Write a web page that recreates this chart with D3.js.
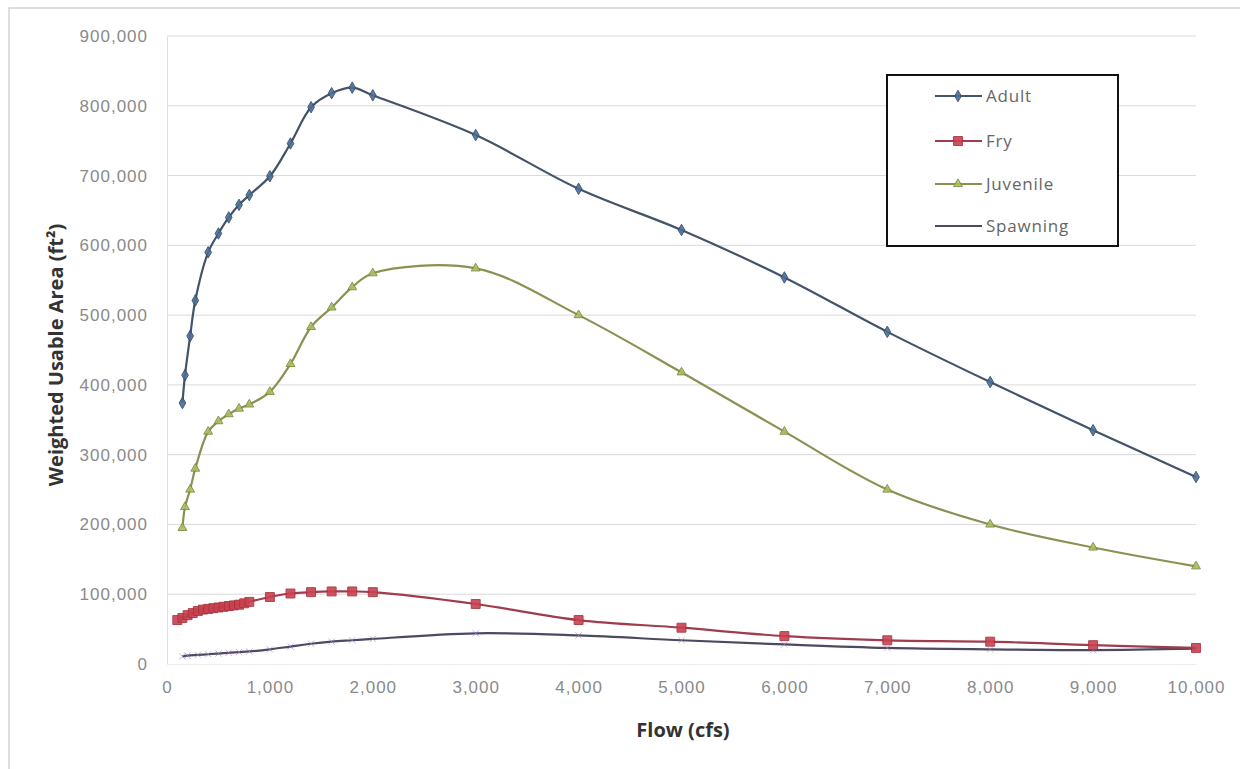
<!DOCTYPE html>
<html>
<head>
<meta charset="utf-8">
<script src="https://cdn.jsdelivr.net/npm/d3@7"></script>
<style>
  html, body { margin: 0; padding: 0; background: #fff; }
  svg { display: block; font-family: "Open Sans", "Noto Sans", sans-serif; }
</style>
</head>
<body>
<svg id="chart" width="1240" height="769"></svg>
<script>
// ---- data ----
const seriesNames = ["Adult", "Fry", "Juvenile", "Spawning"];

const flowAdult = [150, 175, 225, 275, 400, 500, 600, 700, 800, 1000, 1200, 1400, 1600, 1800, 2000, 3000, 4000, 5000, 6000, 7000, 8000, 9000, 10000];
const adult     = [374000, 414000, 470000, 521000, 590000, 617000, 640000, 658000, 672000, 699000, 746000, 798000, 818000, 826000, 815000, 758000, 681000, 622000, 554000, 476000, 404000, 335000, 268000];

const flowFry = [100, 150, 200, 250, 300, 350, 400, 450, 500, 550, 600, 650, 700, 750, 800, 1000, 1200, 1400, 1600, 1800, 2000, 3000, 4000, 5000, 6000, 7000, 8000, 9000, 10000];
const fry     = [63000, 66000, 70000, 73000, 76000, 78000, 79000, 80000, 81000, 82000, 83000, 84000, 85000, 87000, 89000, 96000, 101000, 103000, 104000, 104000, 103000, 86000, 63000, 52000, 40000, 34000, 32000, 27000, 23000];

const flowJuvenile = [150, 175, 225, 275, 400, 500, 600, 700, 800, 1000, 1200, 1400, 1600, 1800, 2000, 3000, 4000, 5000, 6000, 7000, 8000, 9000, 10000];
const juvenile     = [195000, 225000, 250000, 280000, 333000, 348000, 358000, 366000, 372000, 390000, 430000, 483000, 511000, 540000, 560000, 567000, 500000, 418000, 333000, 250000, 200000, 167000, 140000];

const flowSpawning = [150, 200, 300, 400, 500, 600, 700, 800, 1000, 1200, 1400, 1600, 1800, 2000, 3000, 4000, 5000, 6000, 7000, 8000, 9000, 10000];
const spawning     = [11000, 12000, 13000, 14000, 15000, 16000, 17000, 18000, 21000, 25000, 29000, 32000, 34000, 36000, 44000, 41000, 34000, 28000, 23000, 21000, 20000, 22000];

const yTicks = [0, 100000, 200000, 300000, 400000, 500000, 600000, 700000, 800000, 900000];
const xTicks = [0, 1000, 2000, 3000, 4000, 5000, 6000, 7000, 8000, 9000, 10000];

// ---- styles ----
const styles = {
  Adult:    { line: "#43536a", fill: "#4a6f9a", stroke: "#34495f", sym: d3.symbolDiamond, size: 38 },
  Fry:      { line: "#a03c4c", fill: "#c8424f", stroke: "#a8303e", sym: d3.symbolSquare,  size: 80 },
  Juvenile: { line: "#8e8f52", fill: "#a7c05e", stroke: "#7d8a40", sym: d3.symbolTriangle, size: 34 },
  Spawning: { line: "#4e4860", fill: "none",    stroke: "#9c86bd", sym: d3.symbolX, size: 28 }
};

const series = [
  { name: "Adult",    x: flowAdult,    y: adult },
  { name: "Fry",      x: flowFry,      y: fry },
  { name: "Juvenile", x: flowJuvenile, y: juvenile },
  { name: "Spawning", x: flowSpawning, y: spawning }
];

const svg = d3.select("#chart");
const L = 167, R = 1196, T = 36, B = 664;

const x = d3.scaleLinear().domain([0, 10000]).range([L, R]);
const y = d3.scaleLinear().domain([0, 900000]).range([B, T]);

// outer frame
svg.append("rect").attr("x", 9).attr("y", 8).attr("width", 1260).attr("height", 800)
  .attr("fill", "none").attr("stroke", "#d4d4d4").attr("stroke-width", 1.5);

// gridlines
svg.append("g").selectAll("line").data(yTicks.filter(d => d > 0)).join("line")
  .attr("x1", L).attr("x2", R)
  .attr("y1", d => y(d)).attr("y2", d => y(d))
  .attr("stroke", "#dadada").attr("stroke-width", 1);

// axes
const yAxis = d3.axisLeft(y).tickValues(yTicks).tickFormat(d3.format(",")).tickSize(0).tickPadding(19);
const gy = svg.append("g").attr("transform", `translate(${L},0)`).call(yAxis);
gy.select(".domain").attr("stroke", "#e0dce8");
gy.selectAll("text").attr("fill", "#8a8a8a").attr("font-size", 17).attr("letter-spacing", 1);

const xAxis = d3.axisBottom(x).tickValues(xTicks).tickFormat(d3.format(",")).tickSize(0).tickPadding(17);
const gx = svg.append("g").attr("transform", `translate(0,${B})`).call(xAxis);
gx.select(".domain").attr("stroke", "#ececec");
gx.selectAll("text").attr("fill", "#8a8a8a").attr("font-size", 17).attr("letter-spacing", 1);

// axis titles
svg.append("text").attr("x", 683).attr("y", 737).attr("text-anchor", "middle")
  .attr("font-size", 20).attr("font-weight", "bold").attr("fill", "#333")
  .text("Flow (cfs)");
svg.append("text").attr("transform", "translate(63,355) rotate(-90)").attr("text-anchor", "middle")
  .attr("font-size", 20).attr("font-weight", "bold").attr("fill", "#333")
  .text("Weighted Usable Area (ft²)");

// lines
const line = d3.line().x(d => x(d[0])).y(d => y(d[1])).curve(d3.curveCatmullRom.alpha(0.5));

const draw = ["Spawning", "Juvenile", "Adult", "Fry"];
draw.forEach(name => {
  const s = series.find(s => s.name === name);
  const st = styles[name];
  const pts = s.x.map((v, i) => [v, s.y[i]]);
  svg.append("path").datum(pts).attr("d", line)
    .attr("fill", "none").attr("stroke", st.line).attr("stroke-width", 2.2);
  svg.append("g").selectAll("path").data(pts).join("path")
    .attr("transform", d => `translate(${x(d[0])},${y(d[1])})`)
    .attr("d", d3.symbol().type(st.sym).size(st.size))
    .attr("fill", st.fill).attr("stroke", st.stroke).attr("stroke-width", 1)
    .attr("opacity", name === "Spawning" ? 0.6 : 0.9);
});

// legend
const lg = svg.append("g");
lg.append("rect").attr("x", 887).attr("y", 75).attr("width", 231).attr("height", 171)
  .attr("fill", "#fff").attr("stroke", "#111").attr("stroke-width", 2);
const ly = [96, 141, 184, 226];
seriesNames.forEach((name, i) => {
  const st = styles[name];
  lg.append("line").attr("x1", 935).attr("x2", 982).attr("y1", ly[i]).attr("y2", ly[i])
    .attr("stroke", st.line).attr("stroke-width", 2.2);
  if (name !== "Spawning") {
    lg.append("path").attr("transform", `translate(958,${ly[i]})`)
      .attr("d", d3.symbol().type(st.sym).size(st.size))
      .attr("fill", st.fill).attr("stroke", st.stroke).attr("opacity", 0.9);
  }
  lg.append("text").attr("x", 986).attr("y", ly[i]).attr("dy", "0.35em")
    .attr("font-size", 17).attr("letter-spacing", 0.8).attr("fill", "#666").text(name);
});
</script>
</body>
</html>
